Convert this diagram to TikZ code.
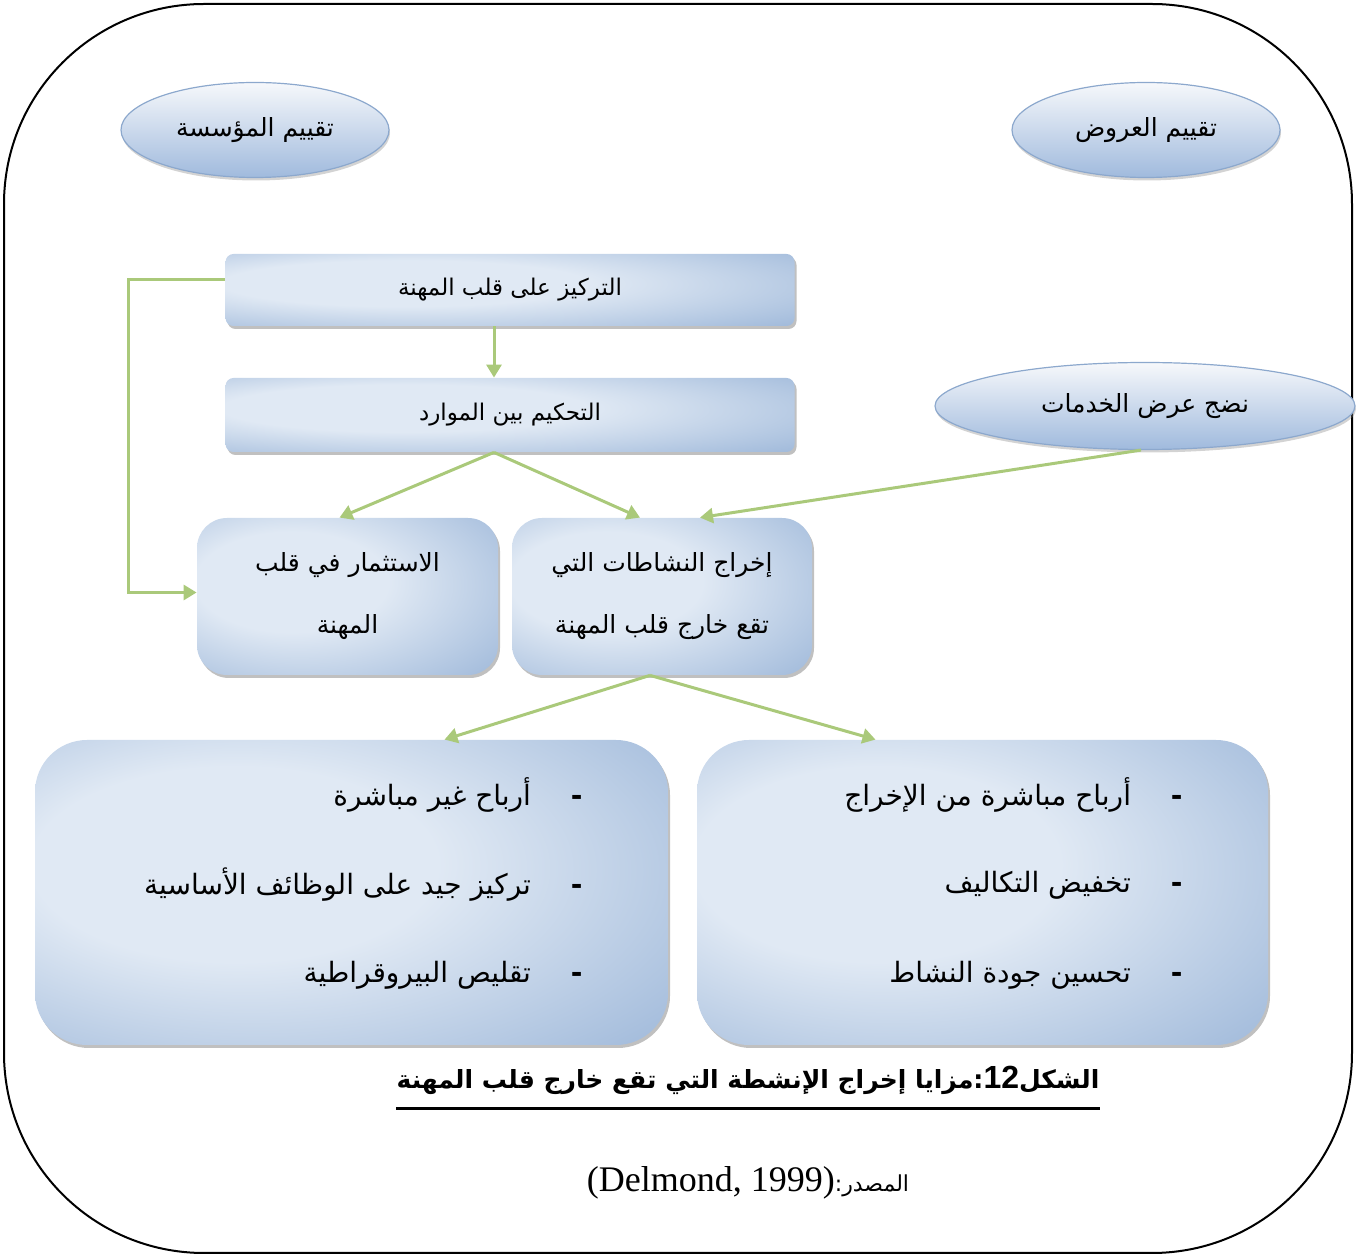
\documentclass[tikz,border=0pt]{standalone}
\usepackage{fontspec}
\setmainfont{DejaVu Sans}
\newfontfamily\arabicfont[Script=Arabic]{DejaVu Sans}
\newfontfamily\latinserif{Liberation Serif}
\newfontfamily\latinsans{Liberation Sans}
\TeXXeTstate=1
\usetikzlibrary{shapes.geometric,shadows,arrows.meta}

\definecolor{boxLight}{RGB}{224,233,244}
\definecolor{boxEdge}{RGB}{142,172,211}
\definecolor{ellTop}{RGB}{246,248,251}
\definecolor{ellBot}{RGB}{160,186,221}
\definecolor{ellLine}{RGB}{140,168,205}
\definecolor{linkGreen}{RGB}{170,201,122}

\pgfdeclareradialshading[boxLight,boxEdge]{boxglow}{\pgfpoint{-12bp}{6bp}}{%
  color(0bp)=(boxLight); color(16bp)=(boxLight); color(48bp)=(boxEdge); color(70bp)=(boxEdge)}

\tikzset{
  flowbox/.style={shading=boxglow, draw=none, align=center,
    drop shadow={shadow xshift=1pt, shadow yshift=-1.5pt, opacity=0.45, fill=black!55}},
  smallbox/.style={flowbox, rounded corners=4pt, font=\arabicfont\fontsize{11.5}{14}\selectfont},
  midbox/.style={flowbox, rounded corners=15pt, font=\arabicfont\fontsize{12.5}{31}\selectfont},
  bigbox/.style={flowbox, rounded corners=26pt},
  oval/.style={ellipse, draw=ellLine, line width=0.6pt, top color=ellTop, bottom color=ellBot,
    inner sep=0pt, font=\arabicfont\fontsize{12.5}{15}\selectfont,
    drop shadow={shadow xshift=0.5pt, shadow yshift=-1.5pt, opacity=0.35, fill=black!50}},
  listitem/.style={anchor=east, inner sep=0pt, font=\arabicfont\fontsize{14}{17}\selectfont},
  link/.style={draw=linkGreen, line width=1.5pt, -{Triangle[width=7.5pt,length=6.5pt]}},
}

\begin{document}
\begin{tikzpicture}[x=0.5pt,y=-0.5pt]
\useasboundingbox (0,0) rectangle (1357,1256);

% outer frame
\draw[line width=1pt, rounded corners=100pt] (4,4) rectangle (1352,1253);

% ovals
\node[oval, minimum width=134pt, minimum height=47.5pt] (e1) at (255,130) {\beginR تقييم المؤسسة\endR};
\node[oval, minimum width=134pt, minimum height=47.5pt] (e2) at (1146,130) {\beginR تقييم العروض\endR};
\node[oval, minimum width=210pt, minimum height=43.5pt] (e3) at (1145,406) {\beginR نضج عرض الخدمات\endR};

% upper boxes
\node[smallbox, minimum width=284.5pt, minimum height=36pt] (b1) at (510,290) {\beginR التركيز على قلب المهنة\endR};
\node[smallbox, minimum width=284.5pt, minimum height=37pt] (b2) at (510,415) {\beginR التحكيم بين الموارد\endR};

% middle boxes
\node[midbox, minimum width=150.5pt, minimum height=78.5pt] (b3) at (347.5,596.5)
  {\beginR الاستثمار في قلب\endR\\\beginR المهنة\endR};
\node[midbox, minimum width=150pt, minimum height=78.5pt] (b4) at (662,596.5)
  {\beginR إخراج النشاطات التي\endR\\\beginR تقع خارج قلب المهنة\endR};

% lower boxes
\node[bigbox, minimum width=316.5pt, minimum height=152.5pt] (b5) at (351.5,892.5) {};
\node[bigbox, minimum width=285.5pt, minimum height=152.5pt] (b6) at (982.5,892.5) {};

\node[listitem] (l1) at (583,795) {\beginR\textbf{-}\hspace{20pt}أرباح غير مباشرة\endR};
\node[listitem] (l2) at (583,885) {\beginR\textbf{-}\hspace{20pt}تركيز جيد على الوظائف الأساسية\endR};
\node[listitem] (l3) at (583,975) {\beginR\textbf{-}\hspace{20pt}تقليص البيروقراطية\endR};
\node[listitem] (r1) at (1183,795) {\beginR\textbf{-}\hspace{20pt}أرباح مباشرة من الإخراج\endR};
\node[listitem] (r2) at (1183,885) {\beginR\textbf{-}\hspace{20pt}تخفيض التكاليف\endR};
\node[listitem] (r3) at (1183,975) {\beginR\textbf{-}\hspace{20pt}تحسين جودة النشاط\endR};

% connectors
\draw[link] ([xshift=-8pt]b1.south) -- ([xshift=-8pt]b2.north);
\draw[link] ([xshift=-8pt]b2.south) -- ([xshift=-4pt]b3.north);
\draw[link] ([xshift=-8pt]b2.south) -- ([xshift=-11pt]b4.north);
\draw[link] ([xshift=-2pt]e3.south) -- ([xshift=19pt]b4.north);
\draw[link] ([yshift=5pt]b1.west) -- (128,280) |- ([yshift=2pt]b3.west);
\draw[link] ([xshift=-6pt]b4.south) -- ([xshift=46.5pt]b5.north);
\draw[link] ([xshift=-6pt]b4.south) -- ([xshift=-53.5pt]b6.north);

% caption and source
\node[inner sep=0pt, font=\arabicfont\bfseries\fontsize{12.5}{16}\selectfont] (cap) at (748,1080)
  {\beginR الشكل\beginL{\latinsans\bfseries\fontsize{16}{18}\selectfont 12}\endL:مزايا إخراج الإنشطة التي تقع خارج قلب المهنة\endR};
\draw[line width=1.5pt] ([yshift=-7pt]cap.south west) -- ([yshift=-7pt]cap.south east);
\node[inner sep=0pt, font=\arabicfont\fontsize{11}{14}\selectfont] (src) at (748,1183)
  {\beginR المصدر:\beginL{\latinserif\fontsize{18}{20}\selectfont (Delmond, 1999)}\endL\endR};
\end{tikzpicture}
\end{document}
